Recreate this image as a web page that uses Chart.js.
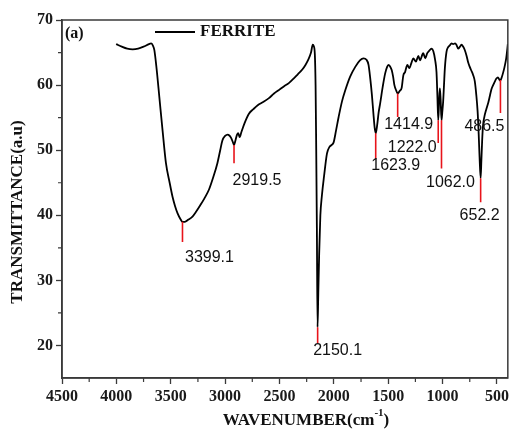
<!DOCTYPE html>
<html>
<head>
<meta charset="utf-8">
<script src="https://cdn.jsdelivr.net/npm/chart.js@4.4.0/dist/chart.umd.min.js"></script>
<style>
html, body { margin: 0; padding: 0; background: #fff; }
#wrap { width: 512px; height: 433px; }
</style>
</head>
<body>
<div id="wrap"><canvas id="ftir" width="512" height="433"></canvas></div>
<script>
// FTIR spectrum, ferrite sample (a)

// wavenumber (cm-1), high -> low
const wavenumber = [
	4002, 3950, 3900, 3850, 3800, 3750, 3700, 3681, 3665, 3651,
	3630, 3605, 3575, 3544, 3510, 3483, 3460, 3437, 3410, 3392,
	3370, 3340, 3300, 3269, 3230, 3190, 3147, 3110, 3071, 3045,
	3025, 3000, 2975, 2964, 2945, 2930, 2918, 2905, 2890, 2879,
	2866, 2850, 2820, 2781, 2740, 2700, 2650, 2597, 2550, 2500,
	2460, 2414, 2370, 2330, 2290, 2261, 2235, 2210, 2194, 2185,
	2175, 2168, 2162, 2156, 2150, 2143, 2135, 2124, 2110, 2090,
	2063, 2040, 2020, 2002, 1980, 1956, 1925, 1895, 1850, 1803,
	1760, 1727, 1700, 1681, 1665, 1650, 1636, 1625, 1615, 1602,
	1588, 1574, 1550, 1528, 1510, 1498, 1484, 1468, 1455, 1443,
	1425, 1413, 1395, 1376, 1361, 1345, 1324, 1306, 1285, 1269,
	1245, 1223, 1208, 1178, 1159, 1141, 1116, 1102, 1085, 1068,
	1056, 1048, 1040, 1032, 1025, 1018, 1010, 1002, 995, 987,
	979, 964, 950, 933, 918, 903, 885, 873, 857, 840,
	827, 810, 796, 781, 765, 750, 735, 720, 704, 690,
	678, 668, 660, 650, 643, 636, 628, 615, 598, 580,
	567, 552, 535, 521, 505, 491, 480, 470, 460, 445,
	430, 415, 405, 400
]
// transmittance (a.u)
const transmittance = [
	66.3, 65.9, 65.6, 65.5, 65.6, 65.9, 66.3, 66.4, 66.1, 65.4,
	62.5, 58.2, 53.0, 48.0, 45.0, 42.8, 41.4, 40.3, 39.4, 39.0,
	39.0, 39.3, 39.8, 40.5, 41.5, 42.6, 44.0, 45.8, 48.0, 50.0,
	51.5, 52.2, 52.4, 52.3, 51.9, 51.3, 50.8, 51.5, 52.4, 52.6,
	52.0, 52.8, 54.2, 55.6, 56.3, 56.9, 57.4, 58.0, 58.7, 59.3,
	59.8, 60.3, 61.0, 61.7, 62.4, 63.1, 63.9, 65.0, 66.2, 66.0,
	64.8, 60.0, 50.0, 38.0, 22.8, 28.0, 34.0, 40.0, 43.0, 46.0,
	49.5, 50.5, 50.8, 51.2, 53.0, 55.1, 57.5, 59.2, 61.3, 62.8,
	63.8, 64.1, 63.9, 63.1, 61.0, 58.5, 55.6, 53.5, 52.6, 53.8,
	55.8, 57.2, 59.8, 61.8, 62.8, 63.1, 62.9, 62.3, 61.3, 60.0,
	59.1, 58.7, 59.1, 59.6, 61.5, 62.0, 63.1, 62.6, 63.5, 64.1,
	63.6, 64.5, 63.8, 64.9, 64.1, 64.9, 65.4, 65.6, 65.2, 63.8,
	62.0, 58.5, 54.6, 57.5, 59.5, 57.8, 54.6, 56.0, 57.4, 60.0,
	62.6, 65.1, 65.8, 66.1, 66.4, 66.3, 66.4, 66.2, 65.6, 65.9,
	66.2, 65.9, 65.4, 64.6, 63.5, 62.8, 62.2, 61.6, 60.6, 58.5,
	56.0, 52.5, 49.0, 45.7, 48.5, 51.5, 53.8, 55.2, 56.3, 57.3,
	58.2, 59.3, 60.0, 60.5, 61.0, 61.2, 60.9, 60.7, 61.0, 61.8,
	62.8, 64.1, 65.5, 66.3
]

const xTicks = [4500, 4000, 3500, 3000, 2500, 2000, 1500, 1000, 500]
const yTicks = [20, 30, 40, 50, 60, 70]

// peak marks (red): label, position on the x axis, top and bottom of the mark
const peakLabels = ['3399.1', '2919.5', '2150.1', '1623.9', '1414.9', '1222.0', '1062.0', '652.2', '486.5']
const peakPos    = [3392, 2918, 2149, 1615, 1413, 1040, 1010, 650, 468]
const peakTop    = [39.0, 50.8, 22.8, 52.6, 58.7, 54.6, 54.6, 45.7, 60.8]
const peakBottom = [35.9, 48.0, 20.3, 48.6, 55.1, 51.1, 47.2, 42.0, 55.7]

// label offset from the bottom of each mark (px)
const labelOffset = [[27, 16], [23, 17], [20, 7], [20, 6], [11, 8], [-26, 5], [9, 14], [-1, 13], [-16, 14]]

const serif = '"Liberation Serif", "Times New Roman", serif'
const sans = '"Liberation Sans", Arial, sans-serif'

const datasets = [{
	label: 'FERRITE',
	data: wavenumber.map((w, i) => ({ x: w, y: transmittance[i] })),
	borderColor: '#000',
	borderWidth: 1.8,
	pointRadius: 0,
	cubicInterpolationMode: 'monotone',
	order: 1
}]
peakPos.forEach((p, i) => {
	datasets.push({
		label: peakLabels[i],
		data: [{ x: p, y: peakTop[i] }, { x: p, y: peakBottom[i] }],
		borderColor: '#e8141b',
		borderWidth: 1.6,
		pointRadius: 0,
		order: 0
	})
})

// 枠、補助目盛、ラベル類
const ftirDecor = {
	id: 'ftirDecor',
	afterDraw(chart) {
		const { ctx, chartArea: a, scales: { x, y } } = chart
		ctx.save()

		ctx.strokeStyle = '#3a3a3a'
		ctx.lineWidth = 1.5
		ctx.strokeRect(a.left, a.top, a.right - a.left, a.bottom - a.top)

		// minor ticks
		ctx.lineWidth = 1.2
		ctx.beginPath()
		for (let v = 4250; v > 400; v -= 500) {
			const px = x.getPixelForValue(v)
			ctx.moveTo(px, a.bottom)
			ctx.lineTo(px, a.bottom + 4)
		}
		for (let v = 25; v < 70; v += 10) {
			const py = y.getPixelForValue(v)
			ctx.moveTo(a.left, py)
			ctx.lineTo(a.left - 4, py)
		}
		ctx.stroke()

		// peak labels
		ctx.fillStyle = '#111'
		ctx.font = '16px ' + sans
		ctx.textAlign = 'center'
		ctx.textBaseline = 'middle'
		peakLabels.forEach((t, i) => {
			const px = x.getPixelForValue(peakPos[i]) + labelOffset[i][0]
			const py = y.getPixelForValue(peakBottom[i]) + labelOffset[i][1]
			ctx.fillText(t, px, py)
		})

		// legend
		ctx.strokeStyle = '#000'
		ctx.lineWidth = 2
		ctx.beginPath()
		ctx.moveTo(a.left + 93, a.top + 12)
		ctx.lineTo(a.left + 133, a.top + 12)
		ctx.stroke()
		ctx.font = 'bold 17px ' + serif
		ctx.textAlign = 'left'
		ctx.fillText(chart.data.datasets[0].label, a.left + 138, a.top + 12)

		// (a)
		ctx.font = 'bold 16px ' + serif
		ctx.fillText('(a)', a.left + 3, a.top + 14)

		// x title with superscript
		const main = 'WAVENUMBER(cm'
		const sup = '-1'
		ctx.font = 'bold 17px ' + serif
		const w1 = ctx.measureText(main).width
		const w3 = ctx.measureText(')').width
		ctx.font = 'bold 11px ' + serif
		const w2 = ctx.measureText(sup).width
		let tx = 306 - (w1 + w2 + w3) / 2
		const ty = a.bottom + 43
		ctx.font = 'bold 17px ' + serif
		ctx.fillText(main, tx, ty)
		ctx.font = 'bold 11px ' + serif
		ctx.fillText(sup, tx + w1, ty - 8)
		ctx.font = 'bold 17px ' + serif
		ctx.fillText(')', tx + w1 + w2, ty)

		// y title
		ctx.translate(18, 212)
		ctx.rotate(-Math.PI / 2)
		ctx.textAlign = 'center'
		ctx.fillText('TRANSMITTANCE(a.u)', 0, 0)

		ctx.restore()
	}
}

const ftir_chart = new Chart(document.getElementById('ftir'), {
	type: 'line',
	data: { datasets },
	options: {
		responsive: false,
		animation: false,
		layout: { padding: { top: 20, right: 2, left: 0, bottom: 0 } },
		plugins: {
			legend: { display: false },
			tooltip: { enabled: false }
		},
		scales: {
			x: {
				type: 'linear',
				reverse: true,
				min: 400,
				max: 4500,
				afterBuildTicks: s => { s.ticks = xTicks.map(v => ({ value: v })) },
				afterFit: s => { s.height = 55 },
				grid: { drawOnChartArea: false, tickLength: 6, tickColor: '#3a3a3a', tickWidth: 1.3 },
				border: { display: true, color: '#3a3a3a', width: 1.5 },
				ticks: {
					font: { family: serif, size: 16, weight: 'bold' },
					color: '#1a1a1a',
					padding: 3,
					maxRotation: 0,
					callback: v => String(v)
				}
			},
			y: {
				min: 15,
				max: 70,
				afterBuildTicks: s => { s.ticks = yTicks.map(v => ({ value: v })) },
				afterFit: s => { s.width = 62 },
				grid: { drawOnChartArea: false, tickLength: 6, tickColor: '#3a3a3a', tickWidth: 1.3 },
				border: { display: true, color: '#3a3a3a', width: 1.5 },
				ticks: {
					font: { family: serif, size: 16, weight: 'bold' },
					color: '#1a1a1a',
					padding: 3,
					callback: v => String(v)
				}
			}
		}
	},
	plugins: [ftirDecor]
})
</script>
</body>
</html>
